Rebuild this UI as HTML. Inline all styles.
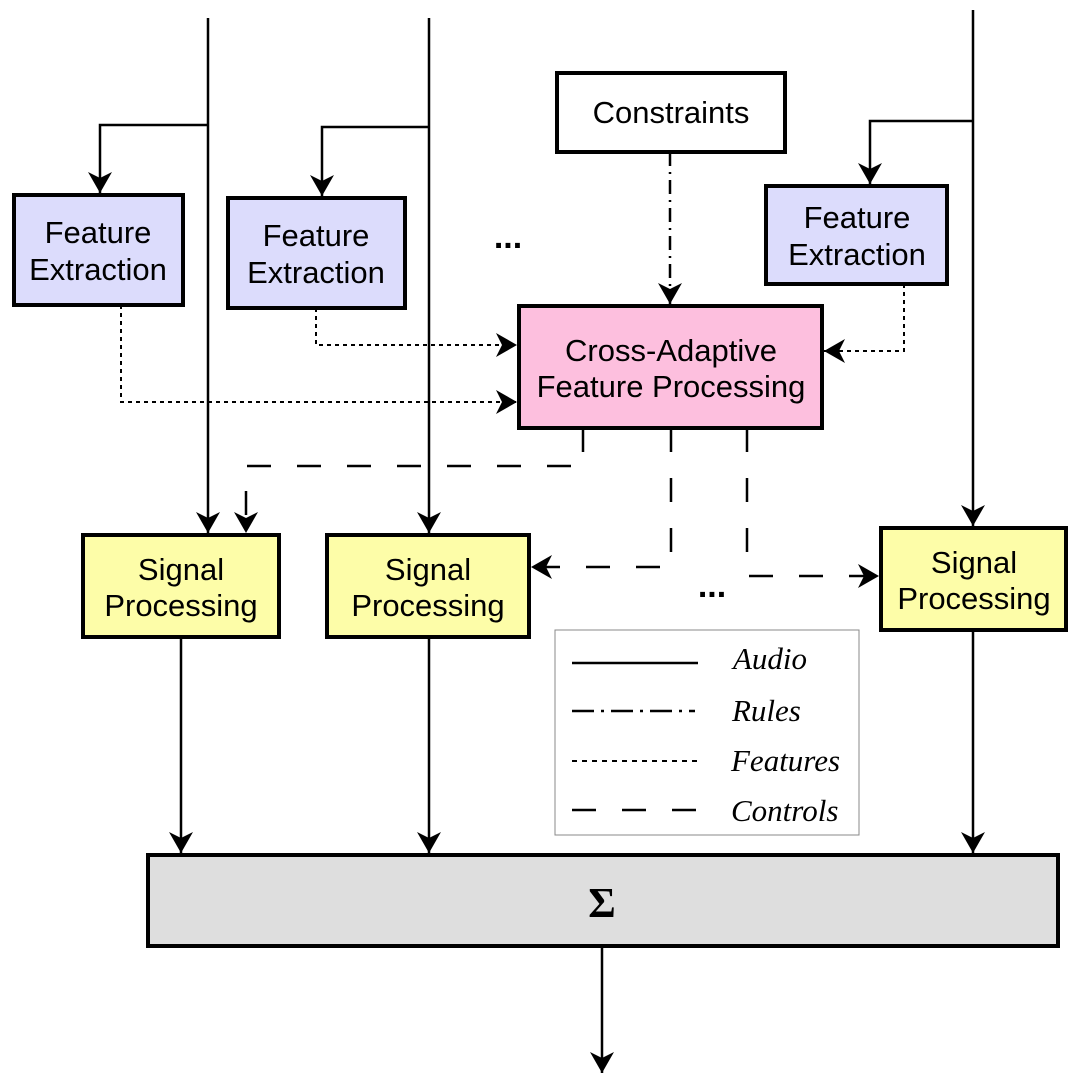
<!DOCTYPE html>
<html><head><meta charset="utf-8"><style>html,body{margin:0;padding:0;background:#fff}svg{display:block}</style></head>
<body>
<svg width="1080" height="1086" viewBox="0 0 1080 1086" xmlns="http://www.w3.org/2000/svg" font-family="Liberation Sans, sans-serif">
<defs>
<marker id="a" markerUnits="userSpaceOnUse" viewBox="0 0 22 26" markerWidth="22" markerHeight="26" refX="21" refY="13" orient="auto">
<path d="M0,1 L21,13 L0,25 L6,13 z" fill="#000"/>
</marker>
</defs>
<g fill="none" stroke="#000" stroke-width="2.5">
<path d="M208,18 V533" marker-end="url(#a)"/>
<path d="M208,125 H100 V193" marker-end="url(#a)"/>
<path d="M429,18 V533" marker-end="url(#a)"/>
<path d="M429,127 H322 V196" marker-end="url(#a)"/>
<path d="M973,10 V526" marker-end="url(#a)"/>
<path d="M973,121 H870 V184" marker-end="url(#a)"/>
<path d="M181,637 V853" marker-end="url(#a)"/>
<path d="M429,637 V853" marker-end="url(#a)"/>
<path d="M973,630 V853" marker-end="url(#a)"/>
<path d="M602,946 V1073" marker-end="url(#a)"/>
<path d="M670,152 V304" stroke-dasharray="14,6,2,6" marker-end="url(#a)"/>
<path d="M121,305 V402 H517" stroke-dasharray="4,4" stroke-width="2" marker-end="url(#a)"/>
<path d="M316,308 V345 H517" stroke-dasharray="4,4" stroke-width="2" marker-end="url(#a)"/>
<path d="M904,284 V351 H824" stroke-dasharray="4,4" stroke-width="2" marker-end="url(#a)"/>
<path d="M583,428 V466 H246 V533" stroke-dasharray="24,26" marker-end="url(#a)"/>
<path d="M671,428 V567 H531" stroke-dasharray="24,26" marker-end="url(#a)"/>
<path d="M747,428 V576 H879" stroke-dasharray="24,26" marker-end="url(#a)"/>
</g>
<g stroke="#000" stroke-width="4">
<rect x="14" y="195" width="169" height="110" fill="#dcdcfc"/>
<rect x="228" y="198" width="177" height="110" fill="#dcdcfc"/>
<rect x="766" y="186" width="181" height="98" fill="#dcdcfc"/>
<rect x="557" y="73" width="228" height="79" fill="#fff"/>
<rect x="519" y="306" width="303" height="122" fill="#fdbfde"/>
<rect x="83" y="535" width="196" height="102" fill="#fdfda8"/>
<rect x="327" y="535" width="202" height="102" fill="#fdfda8"/>
<rect x="881" y="528" width="185" height="102" fill="#fdfda8"/>
<rect x="148" y="855" width="910" height="91" fill="#dedede"/>
</g>
<g font-size="31" text-anchor="middle" fill="#000">
<text x="98" y="243">Feature</text><text x="98" y="280">Extraction</text>
<text x="316" y="246">Feature</text><text x="316" y="283">Extraction</text>
<text x="857" y="228">Feature</text><text x="857" y="265">Extraction</text>
<text x="671" y="123">Constraints</text>
<text x="671" y="361">Cross-Adaptive</text><text x="671" y="397">Feature Processing</text>
<text x="181" y="580">Signal</text><text x="181" y="616">Processing</text>
<text x="428" y="580">Signal</text><text x="428" y="616">Processing</text>
<text x="974" y="573">Signal</text><text x="974" y="609">Processing</text>
<text x="508" y="248" font-weight="bold" font-size="34">...</text>
<text x="712" y="597" font-weight="bold" font-size="34">...</text>
<text x="602" y="917" font-family="Liberation Serif, serif" font-size="42" font-weight="bold">Σ</text>
</g>
<rect x="555" y="630" width="304" height="205" fill="#fff" stroke="#888" stroke-width="1"/>
<g stroke="#000" stroke-width="2.5">
<line x1="572" y1="663" x2="698" y2="663"/>
<line x1="572" y1="711" x2="695" y2="711" stroke-dasharray="22,7,3,7"/>
<line x1="572" y1="761" x2="698" y2="761" stroke-dasharray="5,5" stroke-width="2"/>
<line x1="572" y1="810" x2="698" y2="810" stroke-dasharray="24,26"/>
</g>
<g font-family="Liberation Serif, serif" font-style="italic" font-size="31" fill="#000">
<text x="733" y="669">Audio</text>
<text x="732" y="721">Rules</text>
<text x="731" y="771">Features</text>
<text x="731" y="821">Controls</text>
</g>
</svg>
</body></html>
